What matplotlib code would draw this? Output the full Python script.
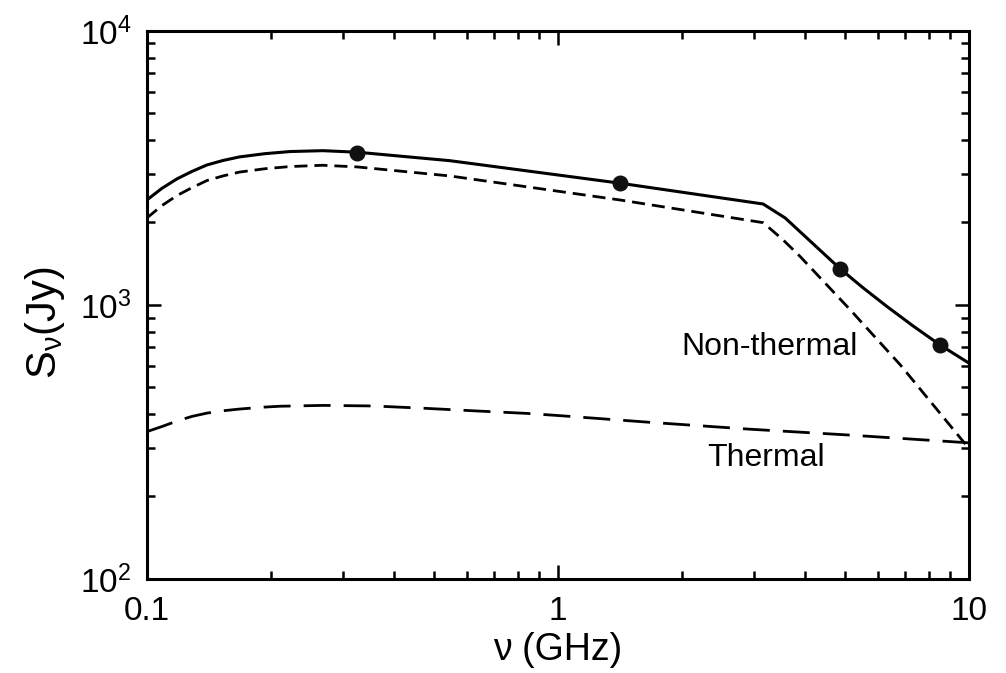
import matplotlib
matplotlib.use('Agg')
import matplotlib.pyplot as plt
from matplotlib import rcParams
from matplotlib.ticker import LogLocator, NullFormatter, LogFormatterMathtext, FixedFormatter

rcParams['font.family'] = ['Liberation Sans', 'DejaVu Sans']
rcParams['mathtext.fontset'] = 'custom'
rcParams['mathtext.rm'] = 'Liberation Sans'
rcParams['mathtext.it'] = 'Liberation Sans:italic'

# measured flux densities
nu_obs = [0.325, 1.42, 4.87, 8.52]
s_obs = [3600, 2780, 1355, 714]

# total model
nu_total = [0.100, 0.1088, 0.1183, 0.1287, 0.140, 0.1531, 0.168, 0.1938, 0.223, 0.268, 0.325,
            0.546, 1.418, 3.16, 3.575, 4.87, 5.535, 6.33, 7.33, 8.52, 10.0]
s_total = [2416, 2665, 2884, 3071, 3243, 3367, 3470, 3566, 3630, 3657, 3610,
           3362, 2782, 2336, 2077, 1353, 1154, 986, 837, 714, 614]

# non-thermal component
nu_nt = [0.100, 0.1088, 0.1183, 0.1287, 0.140, 0.1531, 0.168, 0.1938, 0.223, 0.268, 0.325,
         0.546, 1.418, 3.16, 3.535, 3.89, 5.15, 6.81, 10.0]
s_nt = [2077, 2305, 2507, 2679, 2845, 2957, 3055, 3142, 3200, 3235, 3190,
        2957, 2416, 1997, 1727, 1501, 959, 605, 300]

# thermal component
nu_th = [0.100, 0.1088, 0.1183, 0.1287, 0.140, 0.1531, 0.168, 0.1938, 0.211, 0.268, 0.355,
         0.470, 0.622, 0.842, 1.0, 1.677, 2.938, 5.15, 10.0]
s_th = [345, 360, 377, 392, 403, 411, 417, 424, 427, 430, 428,
        420, 411, 402, 395, 373, 352, 335, 314]

fig = plt.figure(figsize=(10.06, 6.73), dpi=100)
ax = fig.add_axes([0.146, 0.1397, 0.817, 0.8143])

ax.plot(nu_total, s_total, color='black', lw=2.2)
ax.plot(nu_nt, s_nt, color='black', lw=2.0, dashes=(4.7, 2.5))
ax.plot(nu_th, s_th, color='black', lw=2.0, dashes=(9.7, 4.7))
ax.plot(nu_obs, s_obs, 'o', color='#111111', ms=10.5)

ax.set_xscale('log')
ax.set_yscale('log')
ax.set_xlim(0.1, 10)
ax.set_ylim(100, 10000)

ax.xaxis.set_minor_locator(LogLocator(base=10, subs=range(2, 10)))
ax.xaxis.set_minor_formatter(NullFormatter())
ax.set_xticks([0.1, 1, 10])
ax.xaxis.set_major_formatter(FixedFormatter(['0.1', '1', '10']))
ax.yaxis.set_minor_locator(LogLocator(base=10, subs=range(2, 10)))
ax.yaxis.set_major_formatter(LogFormatterMathtext())
ax.yaxis.set_minor_formatter(NullFormatter())

ax.tick_params(which='both', direction='in', top=True, right=True, width=1.8, labelsize=24)
ax.tick_params(which='major', length=10)
ax.tick_params(which='minor', length=6)
ax.tick_params(axis='x', pad=12)
ax.tick_params(axis='y', pad=11)
for sp in ax.spines.values():
    sp.set_linewidth(2.2)

ax.set_xlabel('ν (GHz)', fontsize=27, labelpad=4)
ax.set_ylabel(r'S$_{\mathrm{ν}}$(Jy)', fontsize=30)
ax.yaxis.set_label_coords(-0.097, 0.467)

ax.text(3.27, 703, 'Non-thermal', fontsize=23, ha='center', va='center')
ax.text(3.21, 276, 'Thermal', fontsize=23, ha='center', va='center')

fig.savefig('out.png', dpi=100)
